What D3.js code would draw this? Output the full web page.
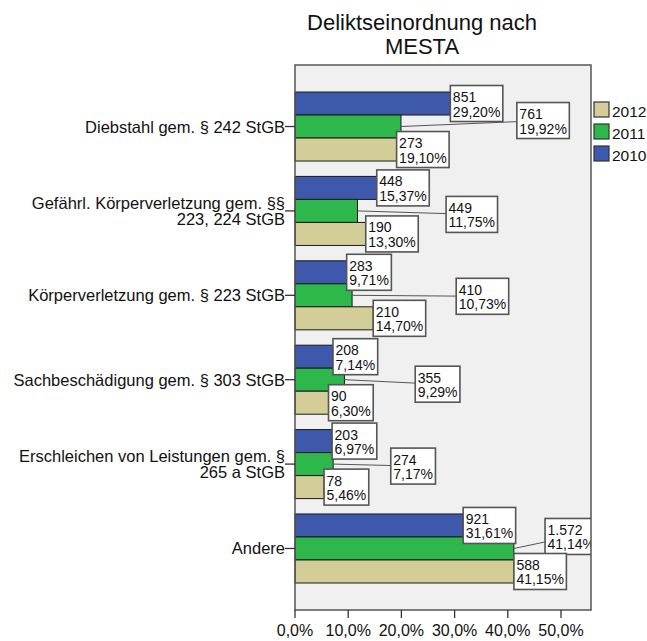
<!DOCTYPE html>
<html>
<head>
<meta charset="utf-8">
<script src="https://cdn.jsdelivr.net/npm/d3@7"></script>
<style>
  body { margin: 0; background: #fff; }
  text { font-family: "Liberation Sans", Arial, sans-serif; fill: #111; }
</style>
</head>
<body>
<svg id="chart" width="647" height="641"></svg>
<script>
'use strict'

// data
const categories = [
  "Diebstahl gem. § 242 StGB",
  "Gefährl. Körperverletzung gem. §§\n223, 224 StGB",
  "Körperverletzung gem. § 223 StGB",
  "Sachbeschädigung gem. § 303 StGB",
  "Erschleichen von Leistungen gem. §\n265 a StGB",
  "Andere"
]
const years = ["2010", "2011", "2012"]
const pct2010 = [29.20, 15.37, 9.71, 7.14, 6.97, 31.61]
const pct2011 = [19.92, 11.75, 10.73, 9.29, 7.17, 41.14]
const pct2012 = [19.10, 13.30, 14.70, 6.30, 5.46, 41.15]
const n2010 = [851, 448, 283, 208, 203, 921]
const n2011 = [761, 449, 410, 355, 274, 1572]
const n2012 = [273, 190, 210, 90, 78, 588]
const xTicks = [0, 10, 20, 30, 40, 50]
const legendOrder = ["2012", "2011", "2010"]

// where SPSS pushed the 2011 labels (x in % units, dy in px from bar centre)
const calloutX = [41.7, 28.4, 30.3, 22.6, 18.0, 47.0]
const calloutDy = [-6, 3.5, 1, 4.5, 2, -12]

const colors = { "2010": "#3e58ac", "2011": "#2eb84c", "2012": "#d3ce97" }

const de = d3.formatLocale({ decimal: ",", thousands: ".", grouping: [3], currency: ["", " €"] })
const fmtTick = v => de.format(".1f")(v) + "%"
const fmtPct = v => de.format(".2f")(v) + "%"
const fmtN = de.format(",d")

const rows = []
categories.forEach((c, i) => {
  rows.push({ cat: c, year: "2010", pct: pct2010[i], n: n2010[i], i: i })
  rows.push({ cat: c, year: "2011", pct: pct2011[i], n: n2011[i], i: i })
  rows.push({ cat: c, year: "2012", pct: pct2012[i], n: n2012[i], i: i })
})

const pLeft = 295, pRight = 591, pTop = 65, pBottom = 610
const pxPer10 = 53.2

let svg = d3.select('#chart')

let x = d3.scaleLinear().domain([0, 10 * (pRight - pLeft) / pxPer10]).range([pLeft, pRight])
let y = d3.scaleBand().domain(categories).range([pTop, pBottom])
  .paddingInner(0.182).paddingOuter(0.32)
let yy = d3.scaleBand().domain(years).range([0, y.bandwidth()])

// title
svg.append('text').attr('x', 422).attr('y', 30).attr('text-anchor', 'middle')
  .style('font-size', '22px').text('Deliktseinordnung nach')
svg.append('text').attr('x', 422).attr('y', 54).attr('text-anchor', 'middle')
  .style('font-size', '22px').text('MESTA')

// plot background
svg.append('rect').attr('x', pLeft).attr('y', pTop)
  .attr('width', pRight - pLeft).attr('height', pBottom - pTop)
  .attr('fill', '#f0f0f0')

svg.append('clipPath').attr('id', 'plotclip')
  .append('rect').attr('x', pLeft).attr('y', pTop)
  .attr('width', pRight - pLeft).attr('height', pBottom - pTop)

// bars
svg.append('g').selectAll('rect')
  .data(rows)
  .join('rect')
  .attr('x', x(0))
  .attr('y', d => y(d.cat) + yy(d.year))
  .attr('width', d => x(d.pct) - x(0))
  .attr('height', yy.bandwidth())
  .attr('fill', d => colors[d.year])
  .attr('stroke', '#1a1a1a')
  .attr('stroke-width', 1)

// labels
let lab = svg.append('g').attr('clip-path', 'url(#plotclip)')
let lines = lab.append('g')
let boxes = lab.append('g')
const boxH = 36

rows.forEach(d => {
  let cy = y(d.cat) + yy(d.year) + yy.bandwidth() / 2
  let g = boxes.append('g')
  let t1 = g.append('text').style('font-size', '14px').text(fmtN(d.n))
  let t2 = g.append('text').style('font-size', '14px').text(fmtPct(d.pct))
  let w = Math.max(t1.node().getComputedTextLength(), t2.node().getComputedTextLength()) + 5
  let bx = x(d.pct), by = cy - boxH / 2
  if (d.year === "2011") {
    bx = x(calloutX[d.i])
    by = cy + calloutDy[d.i] - boxH / 2
    let x0 = x(d.pct), y0 = cy
    let cx = bx + w / 2, ccy = by + boxH / 2
    let ty = y0 + (ccy - y0) * (bx - x0) / (cx - x0)
    lines.append('line')
      .attr('x1', x0).attr('y1', y0).attr('x2', bx).attr('y2', ty)
      .attr('stroke', '#555').attr('stroke-width', 1)
  }
  g.insert('rect', 'text')
    .attr('x', bx).attr('y', by).attr('width', w).attr('height', boxH)
    .attr('fill', '#fff').attr('stroke', '#555').attr('stroke-width', 1.6)
  t1.attr('x', bx + 2.5).attr('y', by + 16.5)
  t2.attr('x', bx + 2.5).attr('y', by + 31)
})

// plot frame
svg.append('rect').attr('x', pLeft).attr('y', pTop)
  .attr('width', pRight - pLeft).attr('height', pBottom - pTop)
  .attr('fill', 'none').attr('stroke', '#555').attr('stroke-width', 1.5)

// category axis
let cat = svg.append('g').selectAll('g')
  .data(categories)
  .join('g')
  .attr('transform', d => `translate(0,${y(d) + y.bandwidth() / 2})`)
cat.append('line').attr('x1', pLeft - 10).attr('x2', pLeft)
  .attr('stroke', '#333').attr('stroke-width', 1.3)
cat.each(function (d) {
  let parts = d.split("\n")
  let lh = 16.5
  let t = d3.select(this).append('text')
    .attr('text-anchor', 'end')
    .style('font-size', '16.5px')
  parts.forEach((p, k) => {
    t.append('tspan').attr('x', pLeft - 10)
      .attr('y', (k - (parts.length - 1) / 2) * lh + 6)
      .text(p)
  })
})

// x axis
let xa = svg.append('g').selectAll('g')
  .data(xTicks)
  .join('g')
  .attr('transform', d => `translate(${x(d)},${pBottom})`)
xa.append('line').attr('y1', 0).attr('y2', 8).attr('stroke', '#333').attr('stroke-width', 1.3)
xa.append('text').attr('y', 26).attr('text-anchor', 'middle')
  .style('font-size', '16px').text(d => fmtTick(d))

// legend
let lg = svg.append('g').selectAll('g')
  .data(legendOrder)
  .join('g')
  .attr('transform', (d, i) => `translate(594,${102 + i * 22})`)
lg.append('rect').attr('width', 15).attr('height', 15)
  .attr('fill', d => colors[d]).attr('stroke', '#333').attr('stroke-width', 1.2)
lg.append('text').attr('x', 18).attr('y', 14.5)
  .style('font-size', '15.5px').text(d => d)
</script>
</body>
</html>
